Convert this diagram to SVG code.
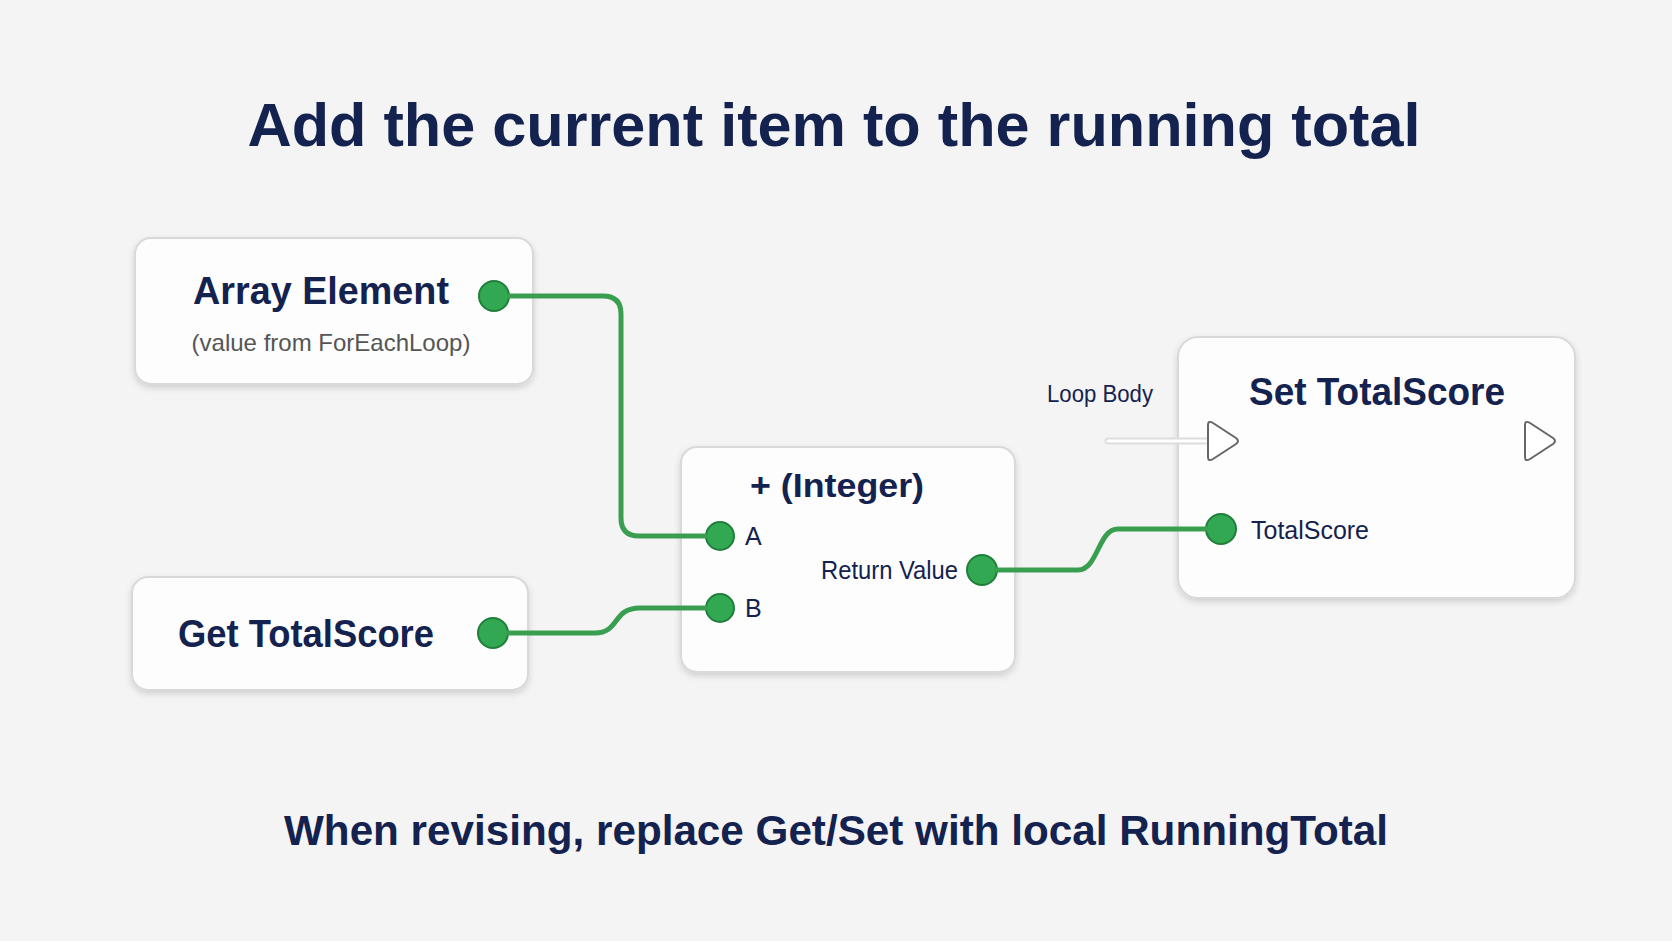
<svg xmlns="http://www.w3.org/2000/svg" width="1672" height="941" viewBox="0 0 1672 941">
<defs>
<filter id="sh" x="-10%" y="-10%" width="120%" height="130%"><feDropShadow dx="0" dy="3" stdDeviation="3" flood-color="#000" flood-opacity="0.15"/></filter>
<style>
.node{fill:#fdfdfd;stroke:#d9d9d9;stroke-width:2;filter:url(#sh)}
text{font-family:"Liberation Sans",Arial,sans-serif;fill:#14224f}
.t{font-weight:bold;font-size:38px;text-anchor:middle}
.l{font-size:25px}
.pin{fill:#33a853;stroke:#1f7f3a;stroke-width:2}
.wire{fill:none;stroke:#3a9e50;stroke-width:5;stroke-linecap:round}
.exec{fill:#fff;stroke:#666;stroke-width:2;stroke-linejoin:round}
</style>
</defs>
<rect width="1672" height="941" fill="#f4f4f4"/>
<text x="834" y="146" text-anchor="middle" font-size="62" font-weight="bold" textLength="1173" lengthAdjust="spacingAndGlyphs">Add the current item to the running total</text>
<g id="array-element">
<rect class="node" x="135" y="238" width="398" height="146" rx="16"/>
<text class="t" x="321" y="304" textLength="256" lengthAdjust="spacingAndGlyphs">Array Element</text>
<text x="331" y="351" font-size="24" text-anchor="middle" style="fill:#555">(value from ForEachLoop)</text>
<circle class="pin" cx="494" cy="296" r="15"/>
</g>
<g id="get-totalscore">
<rect class="node" x="132" y="577" width="396" height="113" rx="16"/>
<text class="t" x="306" y="647" textLength="256" lengthAdjust="spacingAndGlyphs">Get TotalScore</text>
<circle class="pin" cx="493" cy="633" r="15"/>
</g>
<g id="add-integer">
<rect class="node" x="681" y="447" width="334" height="225" rx="16"/>
<text x="837" y="497" font-size="34" font-weight="bold" text-anchor="middle" textLength="174" lengthAdjust="spacingAndGlyphs">+  (Integer)</text>
<circle class="pin" cx="720" cy="536" r="14"/>
<text class="l" x="745" y="545">A</text>
<circle class="pin" cx="720" cy="608" r="14"/>
<text class="l" x="745" y="617">B</text>
<text class="l" x="958" y="579" text-anchor="end" textLength="137" lengthAdjust="spacingAndGlyphs">Return Value</text>
<circle class="pin" cx="982" cy="570" r="15"/>
</g>
<g id="set-totalscore">
<rect class="node" x="1178" y="337" width="397" height="261" rx="20"/>
<text class="t" x="1377" y="405" textLength="256" lengthAdjust="spacingAndGlyphs">Set TotalScore</text>
<path class="exec" d="M1525,425 Q1525,420 1530,423 L1553,438 Q1557,441 1553,444 L1530,459 Q1525,462 1525,457 Z"/>
<circle class="pin" cx="1221" cy="529" r="15"/>
<text class="l" x="1251" y="539" textLength="118" lengthAdjust="spacingAndGlyphs">TotalScore</text>
</g>
<text x="1100" y="402" font-size="23" text-anchor="middle" textLength="106" lengthAdjust="spacingAndGlyphs">Loop Body</text>
<g id="connectors">
<path class="wire" d="M509,296 H603 Q621,296 621,314 V518 Q621,536 639,536 H705"/>
<path class="wire" d="M508,633 H595 C620,633 612,608 640,608 H705"/>
<path class="wire" d="M997,570 H1078 C1098,570 1098,529 1118,529 H1206"/>
<path d="M1108,441 H1207" stroke="#ddd" stroke-width="7" stroke-linecap="round" fill="none"/>
<path d="M1108,441 H1207" stroke="#fff" stroke-width="3" stroke-linecap="round" fill="none"/>
<path class="exec" d="M1208,425 Q1208,420 1213,423 L1236,438 Q1240,441 1236,444 L1213,459 Q1208,462 1208,457 Z"/>
</g>
<text x="836" y="845" text-anchor="middle" font-size="42" font-weight="bold" textLength="1104" lengthAdjust="spacingAndGlyphs">When revising, replace Get/Set with local RunningTotal</text>
</svg>
